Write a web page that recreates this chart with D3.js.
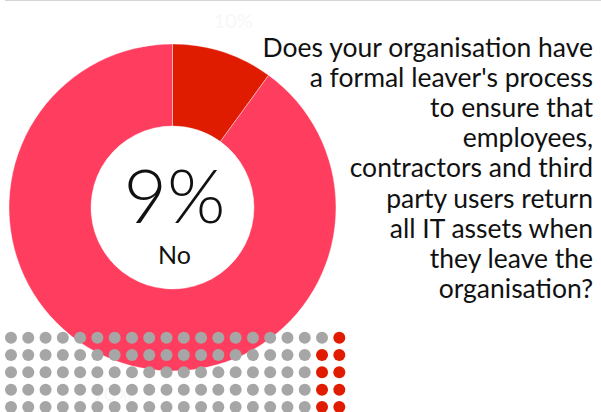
<!DOCTYPE html>
<html>
<head>
<meta charset="utf-8">
<script src="https://cdn.jsdelivr.net/npm/d3@7"></script>
<style>
  html, body { margin: 0; padding: 0; background: #fff; }
  svg { display: block; font-family: Lato, "Open Sans", sans-serif; }
</style>
</head>
<body>
<svg id="chart" width="601" height="412"></svg>
<script>
// Donut slices: "No" then "Yes"
const sliceNames = ["No", "Yes"];
const sliceValues = [10, 90];
const sliceLabels = ["10%", "90%"];
const sliceColors = ["#df1b00", "#ff3d5f"];

// Headline figure and waffle (100 dots)
const headlineValue = 9;
const headlineLabel = "No";
const waffleTotal = 100;
const waffleRows = 5;

// Question text, one entry per line
const questionLines = [
  "Does your organisation have",
  "a formal leaver's process",
  "to ensure that",
  "employees,",
  "contractors and third",
  "party users return",
  "all IT assets when",
  "they leave the",
  "organisation?"
];

const svg = d3.select("#chart");
const W = 601, H = 412;

// thin rule across the top
svg.append("line")
  .attr("x1", 5).attr("x2", W).attr("y1", 0.5).attr("y2", 0.5)
  .attr("stroke", "#d4d4d4").attr("stroke-width", 1);

const cx = 172.5, cy = 207.5, rOuter = 163.5, rInner = 81.5;
const g = svg.append("g").attr("transform", `translate(${cx},${cy})`);

const pie = d3.pie().sort(null).value(d => d);
const arcs = pie(sliceValues);
const arc = d3.arc().innerRadius(rInner).outerRadius(rOuter);
const labelArc = d3.arc().innerRadius(196).outerRadius(196);

g.selectAll("path.slice")
  .data(arcs)
  .join("path")
  .attr("class", "slice")
  .attr("d", arc)
  .attr("fill", (d, i) => sliceColors[i])
  .attr("stroke", "rgba(255,255,255,0.4)")
  .attr("stroke-width", 1);

// faint percentage labels outside the ring
g.selectAll("text.slice-label")
  .data(arcs)
  .join("text")
  .attr("class", "slice-label")
  .attr("transform", d => `translate(${labelArc.centroid(d)})`)
  .attr("text-anchor", "middle")
  .attr("dy", "0.35em")
  .attr("font-size", 20)
  .attr("fill", "#f7f7f7")
  .text((d, i) => sliceLabels[i]);

// centre headline
g.append("text")
  .attr("text-anchor", "middle")
  .attr("x", 2).attr("y", 15)
  .attr("font-size", 75)
  .attr("font-weight", 300)
  .attr("fill", "#111")
  .text(headlineValue + "%");

g.append("text")
  .attr("text-anchor", "middle")
  .attr("x", 2).attr("y", 56)
  .attr("font-size", 25)
  .attr("fill", "#111")
  .text(headlineLabel);

// waffle of dots, filled from the bottom-right corner upward, column by column
const cols = waffleTotal / waffleRows;
const x = d3.scalePoint().domain(d3.range(cols)).range([11, 339.3]);
const y = d3.scalePoint().domain(d3.range(waffleRows)).range([337.7, 407]);
const dots = d3.range(waffleTotal).map(i => ({
  col: cols - 1 - Math.floor(i / waffleRows),
  row: waffleRows - 1 - (i % waffleRows),
  on: i < headlineValue
}));

svg.append("g").selectAll("circle")
  .data(dots)
  .join("circle")
  .attr("cx", d => x(d.col))
  .attr("cy", d => y(d.row))
  .attr("r", 6)
  .attr("fill", d => d.on ? "#e01b00" : "#a6a6a6");

// question, right aligned
svg.append("text")
  .attr("text-anchor", "end")
  .attr("font-size", 26.5)
  .attr("fill", "#111")
  .selectAll("tspan")
  .data(questionLines)
  .join("tspan")
  .attr("x", 593)
  .attr("y", (d, i) => 57 + i * 30.1)
  .text(d => d);
</script>
</body>
</html>
